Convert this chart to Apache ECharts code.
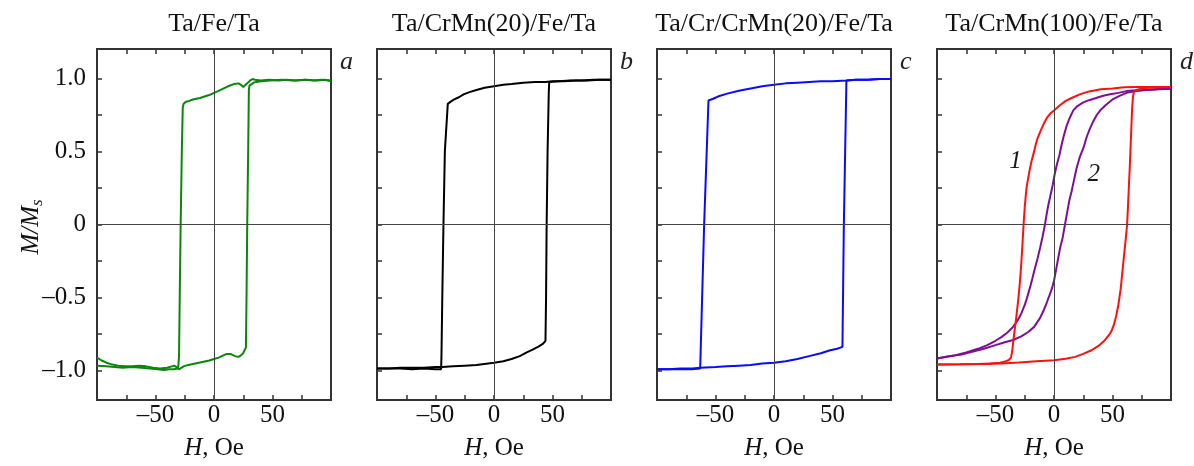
<!DOCTYPE html>
<html>
<head>
<meta charset="utf-8">
<script src="https://cdn.jsdelivr.net/npm/echarts@6/dist/echarts.min.js"></script>
<style>
  html, body { margin: 0; background: #fff; }
  #chart { width: 1194px; height: 466px; }
</style>
</head>
<body>
<div id="chart"></div>
<script>
// panel texts
const panelTitles = ['Ta/Fe/Ta', 'Ta/CrMn(20)/Fe/Ta', 'Ta/Cr/CrMn(20)/Fe/Ta', 'Ta/CrMn(100)/Fe/Ta'];
const panelLetters = ['a', 'b', 'c', 'd'];

// axis ticks
const xTicks = [-75, -50, -25, 0, 25, 50, 75];
const xLabels = [-50, 0, 50];
const yTicks = [-1, -0.75, -0.5, -0.25, 0, 0.25, 0.5, 0.75, 1];
const yLabels = [-1, -0.5, 0, 0.5, 1];

// a: Ta/Fe/Ta  [H (Oe), M/Ms]
const aDown = [[100,0.985],[92,0.99],[85,0.985],[78,0.99],[70,0.985],[62,0.99],[55,0.985],[47,0.99],[40,0.985],[35,0.99],[33,0.995],[31,0.985],[29,0.97],[27,0.955],[25,0.94],[23,0.955],[21,0.965],[17,0.96],[12,0.945],[7,0.925],[3,0.91],[0,0.9],[-4,0.885],[-8,0.875],[-12,0.865],[-15,0.86],[-18,0.855],[-21,0.845],[-24,0.84],[-26,0.825],[-26.7,0.8],[-27.5,0.5],[-28.5,0],[-29.3,-0.5],[-29.9,-0.9],[-30.5,-0.97],[-31.5,-0.985],[-34,-0.99],[-38,-0.99],[-43,-0.995],[-48,-0.99],[-55,-0.985],[-62,-0.98],[-70,-0.975],[-78,-0.98],[-85,-0.975],[-92,-0.97],[-100,-0.965]];
const aUp = [[-100,-0.91],[-96,-0.93],[-92,-0.945],[-88,-0.955],[-82,-0.965],[-76,-0.97],[-70,-0.97],[-64,-0.965],[-58,-0.97],[-52,-0.98],[-46,-0.985],[-40,-0.98],[-36,-0.97],[-34,-0.965],[-32,-0.975],[-30,-0.99],[-28.5,-0.985],[-26,-0.97],[-22,-0.96],[-16,-0.95],[-10,-0.94],[-4,-0.93],[0,-0.92],[4,-0.91],[8,-0.895],[11,-0.885],[14,-0.885],[18,-0.9],[21,-0.905],[23,-0.895],[25,-0.88],[26.5,-0.87],[27.3,-0.84],[27.8,-0.5],[28.4,0],[29.2,0.5],[29.8,0.92],[30.3,0.95],[32,0.955],[34,0.97],[36,0.975],[40,0.98],[48,0.985],[58,0.99],[68,0.985],[78,0.99],[88,0.985],[95,0.99],[100,0.98]];

// b: Ta/CrMn(20)/Fe/Ta
const bDown = [[100,0.99],[90,0.99],[80,0.985],[70,0.985],[60,0.98],[50,0.98],[44,0.975],[35,0.975],[25,0.97],[15,0.96],[8,0.955],[0,0.945],[-8,0.935],[-15,0.92],[-21,0.905],[-26,0.89],[-30,0.87],[-34,0.855],[-37,0.84],[-39.5,0.825],[-41,0.815],[-42,0.5],[-43.2,0],[-44.2,-0.5],[-44.9,-0.9],[-45.2,-0.99],[-50,-0.99],[-60,-0.985],[-70,-0.99],[-80,-0.985],[-90,-0.985],[-100,-0.985]];
const bUp = [[-100,-0.985],[-90,-0.985],[-80,-0.98],[-70,-0.98],[-60,-0.98],[-50,-0.975],[-44,-0.975],[-35,-0.97],[-25,-0.965],[-15,-0.96],[-5,-0.95],[0,-0.945],[8,-0.935],[15,-0.92],[22,-0.9],[28,-0.875],[33,-0.855],[38,-0.835],[42,-0.815],[44,-0.795],[44.5,-0.5],[45,0],[45.8,0.5],[46.8,0.9],[47.2,0.975],[55,0.98],[65,0.985],[75,0.985],[85,0.99],[100,0.99]];

// c: Ta/Cr/CrMn(20)/Fe/Ta
const cDown = [[100,0.995],[90,0.995],[80,0.99],[70,0.99],[62,0.985],[50,0.98],[40,0.98],[30,0.975],[20,0.97],[10,0.965],[0,0.955],[-10,0.945],[-20,0.93],[-30,0.915],[-40,0.895],[-48,0.875],[-52,0.86],[-56,0.848],[-59.7,0],[-63.1,-0.985],[-70,-0.99],[-80,-0.99],[-90,-0.99],[-100,-0.99]];
const cUp = [[-100,-0.99],[-90,-0.99],[-80,-0.985],[-70,-0.985],[-63,-0.98],[-50,-0.975],[-40,-0.97],[-30,-0.965],[-20,-0.96],[-10,-0.95],[0,-0.945],[10,-0.935],[20,-0.92],[30,-0.9],[40,-0.88],[48,-0.86],[54,-0.85],[58.5,-0.837],[59.7,0],[61.9,0.985],[70,0.99],[80,0.99],[90,0.995],[100,0.995]];

// d: Ta/CrMn(100)/Fe/Ta, loop 1 (red) and loop 2 (purple)
const dRedDown = [[100,0.94],[85,0.94],[70,0.94],[60,0.938],[50,0.93],[40,0.925],[30,0.91],[22,0.89],[15,0.865],[10,0.845],[5,0.815],[0,0.78],[-3,0.76],[-6,0.73],[-9,0.685],[-12,0.63],[-14,0.59],[-15.5,0.55],[-17,0.5],[-19,0.44],[-20.5,0.385],[-22,0.32],[-23.5,0.25],[-25,0.12],[-26,0],[-27,-0.14],[-28,-0.27],[-29.2,-0.4],[-30.5,-0.51],[-32.4,-0.645],[-34.7,-0.79],[-35.8,-0.87],[-36.8,-0.91],[-38.5,-0.925],[-41,-0.935],[-46,-0.945],[-55,-0.95],[-65,-0.953],[-80,-0.956],[-100,-0.957]];
const dRedUp = [[-100,-0.957],[-80,-0.956],[-60,-0.953],[-45,-0.95],[-30,-0.943],[-15,-0.935],[0,-0.928],[10,-0.918],[18,-0.905],[25,-0.885],[32,-0.86],[38,-0.83],[43,-0.795],[47,-0.755],[49,-0.73],[51,-0.69],[53,-0.63],[55,-0.55],[57,-0.44],[58.5,-0.32],[60,-0.2],[61.3,-0.1],[62.5,0],[63.5,0.17],[64.8,0.4],[65.8,0.6],[66.8,0.8],[67.5,0.87],[68.2,0.905],[71,0.922],[76,0.932],[85,0.937],[100,0.94]];
const dPurpleDown = [[100,0.928],[90,0.926],[80,0.922],[70,0.918],[62,0.912],[55,0.9],[48,0.89],[42,0.88],[36,0.865],[30,0.85],[25,0.835],[20,0.81],[16.5,0.78],[13.5,0.73],[11,0.68],[8.5,0.61],[6.5,0.545],[4.5,0.47],[2.3,0.405],[0.5,0.34],[-1.1,0.27],[-3,0.2],[-4.8,0.135],[-6.3,0.07],[-7.7,0],[-9.7,-0.08],[-11.9,-0.16],[-14,-0.23],[-16.2,-0.295],[-18.5,-0.37],[-20.5,-0.43],[-23,-0.5],[-25,-0.55],[-28,-0.61],[-31,-0.655],[-35,-0.7],[-40,-0.74],[-45,-0.77],[-50,-0.795],[-57,-0.825],[-65,-0.85],[-75,-0.875],[-85,-0.895],[-100,-0.916]];
const dPurpleUp = [[-100,-0.916],[-90,-0.9],[-80,-0.89],[-70,-0.87],[-60,-0.85],[-50,-0.825],[-42,-0.805],[-35,-0.79],[-28,-0.765],[-22,-0.735],[-17,-0.7],[-12,-0.64],[-9,-0.59],[-6,-0.53],[-3.4,-0.475],[-1.5,-0.43],[0,-0.385],[2,-0.3],[3.7,-0.226],[5.5,-0.15],[7.4,-0.09],[9.4,0],[11.4,0.09],[13,0.16],[15,0.226],[17,0.3],[19.3,0.385],[22,0.46],[25,0.52],[28,0.6],[30.7,0.656],[33.5,0.705],[36.4,0.747],[40,0.785],[44,0.815],[50,0.855],[56,0.88],[62,0.9],[70,0.912],[80,0.92],[90,0.925],[100,0.928]];

const panelSeries = [
  [{ data: aDown, color: '#0a870a' }, { data: aUp, color: '#0a870a' }],
  [{ data: bDown, color: '#000000' }, { data: bUp, color: '#000000' }],
  [{ data: cDown, color: '#0a0aff' }, { data: cUp, color: '#0a0aff' }],
  [{ data: dPurpleDown, color: '#7d0f95' }, { data: dPurpleUp, color: '#7d0f95' },
   { data: dRedDown, color: '#ff1010' }, { data: dRedUp, color: '#ff1010' }]
];

const FONT = 'Liberation Serif';
const INK = '#333';
const gridLeft = [97, 377, 657, 937];
const gridTop = 49, gridW = 234, gridH = 356;

const fmt = v => (v === 0 ? '0' : v.toFixed(1).replace('-', '\u2013'));
const fmtX = v => String(v).replace('-', '\u2013');

const chart = echarts.init(document.getElementById('chart'));

const grid = [], xAxis = [], yAxis = [], series = [], graphic = [];

gridLeft.forEach((left, i) => {
  grid.push({
    left: left, top: gridTop, width: gridW, height: gridH,
    show: true, borderColor: INK, borderWidth: 2, backgroundColor: 'transparent'
  });

  const tick = { show: true, inside: true, length: 5, lineStyle: { color: INK, width: 1.5 }, customValues: xTicks };
  xAxis.push({
    type: 'value', gridIndex: i, min: -100, max: 100, position: 'bottom',
    axisLine: { show: false, onZero: false }, splitLine: { show: false },
    axisTick: tick,
    axisLabel: { customValues: xLabels, formatter: fmtX, fontFamily: FONT, fontSize: 25, color: '#111', margin: 3 },
    name: '{i|H}, Oe', nameLocation: 'middle', nameGap: 36,
    nameTextStyle: { fontFamily: FONT, fontSize: 25, color: '#111',
      rich: { i: { fontFamily: FONT, fontSize: 25, fontStyle: 'italic', color: '#111' } } }
  });
  xAxis.push({
    type: 'value', gridIndex: i, min: -100, max: 100, position: 'top',
    axisLine: { show: false, onZero: false }, splitLine: { show: false },
    axisTick: tick, axisLabel: { show: false }
  });

  yAxis.push({
    type: 'value', gridIndex: i, min: -1.2, max: 1.2, position: 'left',
    axisLine: { show: false, onZero: false }, splitLine: { show: false },
    axisTick: { show: true, inside: true, length: 5, lineStyle: { color: INK, width: 1.5 }, customValues: yTicks },
    axisLabel: { show: i === 0, customValues: yLabels, formatter: fmt, fontFamily: FONT, fontSize: 25, color: '#111', margin: 11 }
  });

  panelSeries[i].forEach((s, k) => {
    const item = {
      type: 'line', xAxisIndex: i * 2, yAxisIndex: i, data: s.data,
      symbol: 'none', smooth: false, silent: true,
      lineStyle: { color: s.color, width: 2 }, z: 3
    };
    if (k === 0) {
      item.markLine = {
        silent: true, symbol: 'none', label: { show: false }, animation: false,
        lineStyle: { color: '#444', width: 1, type: 'solid' },
        data: [{ xAxis: 0 }, { yAxis: 0 }]
      };
    }
    series.push(item);
  });

  graphic.push({
    type: 'text', x: left + gridW / 2, y: 24,
    style: { text: panelTitles[i], font: '26px "' + FONT + '"', fill: '#111', textAlign: 'center', textVerticalAlign: 'middle' }
  });
  graphic.push({
    type: 'text', x: left + gridW + 9, y: 62,
    style: { text: panelLetters[i], font: 'italic 26px "' + FONT + '"', fill: '#222', textAlign: 'left', textVerticalAlign: 'middle' }
  });
});

// y axis title M/Ms
graphic.push({
  type: 'text', x: 31, y: 227, rotation: Math.PI / 2,
  style: {
    text: '{m|M/M}{s|s}', textAlign: 'center', textVerticalAlign: 'middle',
    rich: {
      m: { fontFamily: FONT, fontSize: 25, fontStyle: 'italic', fill: '#111', lineHeight: 30 },
      s: { fontFamily: FONT, fontSize: 17, fontStyle: 'italic', fill: '#111', lineHeight: 14, verticalAlign: 'bottom' }
    }
  }
});

// loop numbers in panel d
series.push({
  type: 'scatter', xAxisIndex: 6, yAxisIndex: 3, symbolSize: 1, silent: true, z: 5,
  itemStyle: { opacity: 0 },
  data: [{ value: [-33, 0.43], name: '1' }, { value: [34, 0.34], name: '2' }],
  label: { show: true, position: 'inside', formatter: p => p.name, opacity: 1,
    fontFamily: FONT, fontSize: 25, fontStyle: 'italic', color: '#1a1a1a' }
});

chart.setOption({
  animation: false,
  backgroundColor: '#fff',
  grid, xAxis, yAxis, series, graphic
});
</script>
</body>
</html>
